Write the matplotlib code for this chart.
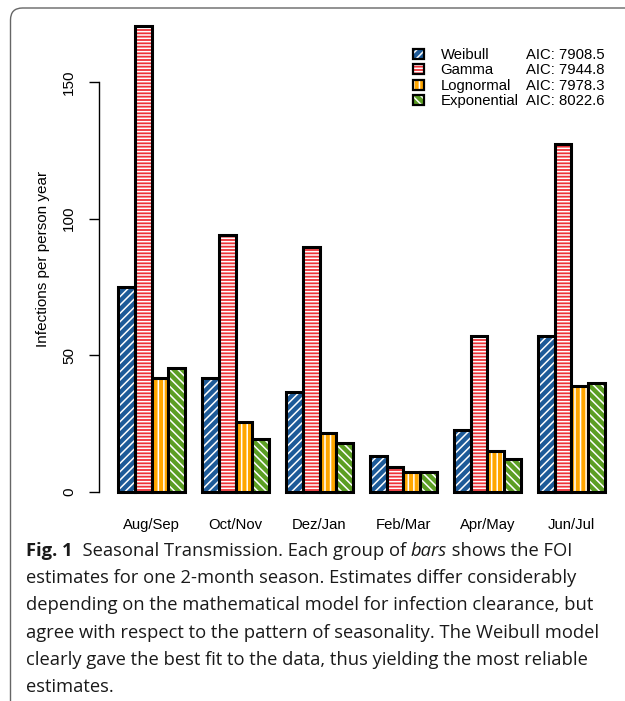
import numpy as np
import matplotlib.pyplot as plt
from matplotlib.patches import Patch, FancyBboxPatch
from matplotlib.legend_handler import HandlerTuple

seasons = ["Aug/Sep", "Oct/Nov", "Dez/Jan", "Feb/Mar", "Apr/May", "Jun/Jul"]
models = ["Weibull", "Gamma", "Lognormal", "Exponential"]
aic = ["AIC: 7908.5", "AIC: 7944.8", "AIC: 7978.3", "AIC: 8022.6"]

weibull = [74.9, 41.7, 36.4, 13.2, 22.7, 57.1]
gamma = [170.5, 94.0, 89.8, 9.1, 57.1, 127.3]
lognormal = [41.7, 25.6, 21.6, 7.3, 15.0, 38.8]
exponential = [45.2, 19.4, 17.9, 7.3, 12.1, 39.9]

colors = ["#1d5a98", "#ee3338", "#ffa600", "#5b9e23"]
hatches = ["////", "-----", "|||", "\\\\\\\\"]

caption = [
    [("Fig. 1", "bold", "normal"), ("  Seasonal Transmission. Each group of ", "normal", "normal"),
     ("bars", "normal", "italic"), (" shows the FOI", "normal", "normal")],
    [("estimates for one 2-month season. Estimates differ considerably", "normal", "normal")],
    [("depending on the mathematical model for infection clearance, but", "normal", "normal")],
    [("agree with respect to the pattern of seasonality. The Weibull model", "normal", "normal")],
    [("clearly gave the best fit to the data, thus yielding the most reliable", "normal", "normal")],
    [("estimates.", "normal", "normal")],
]

plt.rcParams['font.family'] = ['Liberation Sans', 'DejaVu Sans']
plt.rcParams['hatch.linewidth'] = 1.1

W, H = 625, 701
fig = plt.figure(figsize=(W / 100, H / 100), dpi=100)
ax = fig.add_axes([98.5 / W, 1 - 510.6 / H, 526 / W, 503.2 / H])

series = [weibull, gamma, lognormal, exponential]
n_groups = len(seasons)
group_left = 1 + 5 * np.arange(n_groups)
for j, vals in enumerate(series):
    x = group_left + j
    ax.bar(x, vals, width=1, align='edge', color=colors[j], edgecolor='white',
           linewidth=0, hatch=hatches[j])
    ax.bar(x, vals, width=1, align='edge', fill=False, edgecolor='black', linewidth=2.2)

ax.set_xlim(1 - 0.04 * 29, 30 + 0.04 * 29)
ax.set_ylim(-0.04 * max(gamma), max(gamma) * 1.04)

for s in ['top', 'right', 'bottom']:
    ax.spines[s].set_visible(False)
ax.spines['left'].set_bounds(0, 150)
ax.spines['left'].set_linewidth(1.0)
ax.set_yticks([0, 50, 100, 150])
ax.tick_params(axis='y', length=7, width=1.0, pad=9, labelsize=11)
for lab in ax.get_yticklabels():
    lab.set_rotation(90)
    lab.set_va('center')
ax.set_xticks(group_left + 2)
ax.set_xticklabels(seasons)
ax.tick_params(axis='x', length=0, pad=5, labelsize=10.7)
ax.set_ylabel("Infections per person year", fontsize=11, labelpad=9)

handles = [(Patch(facecolor=c, edgecolor='white', hatch=h, linewidth=0),
            Patch(fill=False, edgecolor='black', linewidth=1.6))
           for c, h in zip(colors, hatches)]
blank = [Patch(alpha=0) for _ in aic]
leg = ax.legend(handles + blank, models + aic, ncol=2, frameon=False,
                handler_map={tuple: HandlerTuple(ndivide=1)},
                loc='upper left', bbox_to_anchor=((407 - 98.5) / 526, 1 - (42 - 7.4) / 503.2),
                borderaxespad=0, fontsize=10.7, handlelength=0.72, handleheight=0.62,
                handletextpad=1.15, labelspacing=0.1, columnspacing=-1.4)
for h in leg.legend_handles[4:]:
    h.set_visible(False)

# frame around figure + caption
frame = FancyBboxPatch((10.5, -40), 700, H - 8 + 40, boxstyle="round,pad=0,rounding_size=12",
                       transform=None, facecolor='none', edgecolor='#666666', linewidth=1.0)
fig.add_artist(frame)

renderer = fig.canvas.get_renderer()
for k, line in enumerate(caption):
    xpix = 26
    ypix = H - (556 + 27.2 * k)
    for text, weight, style in line:
        t = fig.text(xpix / W, ypix / H, text, fontsize=13.2, family='Open Sans',
                     fontweight=weight, fontstyle=style, va='baseline', ha='left', color='#1a1a1a')
        xpix = t.get_window_extent(renderer).x1

fig.savefig("out.png", dpi=100)
